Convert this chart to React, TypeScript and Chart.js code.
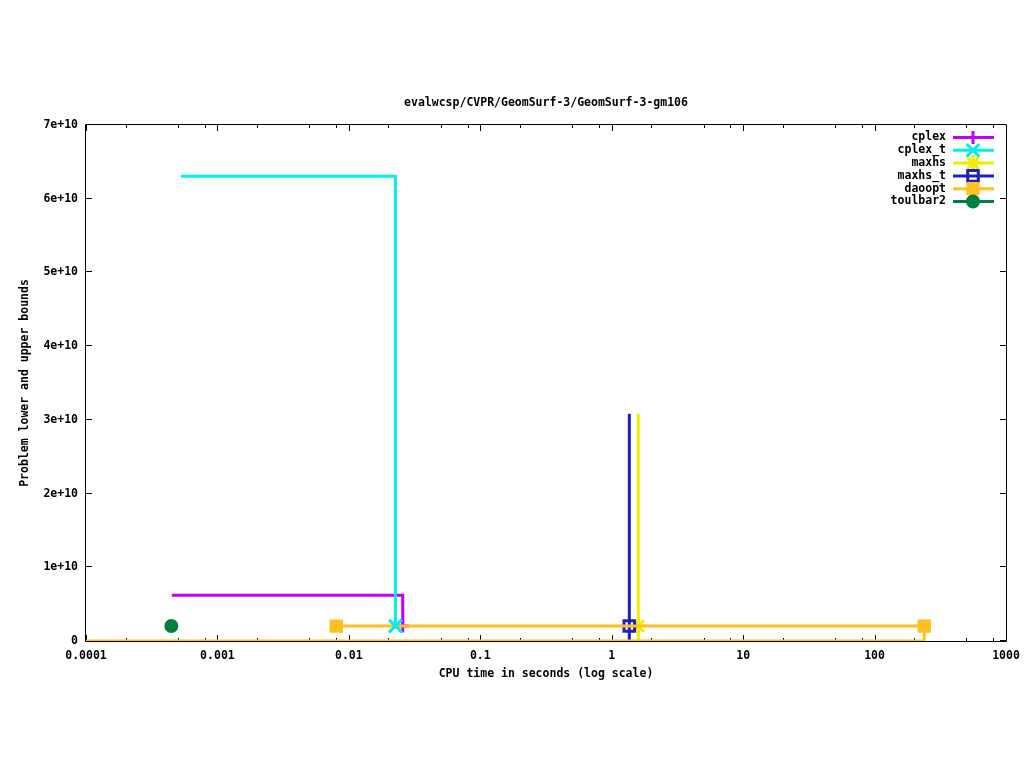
import React, { useEffect, useRef } from 'react';
import { Chart, registerables } from 'chart.js';
import { drawPoint } from 'chart.js/helpers';

Chart.register(...registerables);

const chartTitle = 'evalwcsp/CVPR/GeomSurf-3/GeomSurf-3-gm106';
const xAxisTitle = 'CPU time in seconds (log scale)';
const yAxisTitle = 'Problem lower and upper bounds';

const xTickValues = [0.0001, 0.001, 0.01, 0.1, 1, 10, 100, 1000];
const xTickLabels = ['0.0001', '0.001', '0.01', '0.1', '1', '10', '100', '1000'];
const xMinorFactors = [2, 5, 8];
const yTickValues = [0, 1e10, 2e10, 3e10, 4e10, 5e10, 6e10, 7e10];
const yTickLabels = ['0', '1e+10', '2e+10', '3e+10', '4e+10', '5e+10', '6e+10', '7e+10'];

// series: x (seconds), y (bound), marker flag
const cplexX = [0.00045, 0.0257, 0.0257];
const cplexY = [6.2e9, 6.2e9, 2.03e9];
const cplexM = [0, 0, 1];

const cplexTX = [0.000528, 0.0226, 0.0226];
const cplexTY = [6.305e10, 6.305e10, 2.03e9];
const cplexTM = [0, 0, 1];

const maxhsX = [1.593, 1.593, 1.593];
const maxhsY = [3.083e10, 2.03e9, 0];
const maxhsM = [0, 1, 0];

const maxhsTX = [1.361, 1.361, 1.361];
const maxhsTY = [3.083e10, 2.03e9, 0];
const maxhsTM = [0, 1, 0];

const daooptX = [0.00802, 238.8];
const daooptY = [2.03e9, 2.03e9];
const daooptM = [1, 1];
const daooptLowX = [0.0001, 238.8, 238.8];
const daooptLowY = [0, 0, 2.03e9];

const toulbar2X = [0.000446];
const toulbar2Y = [2.03e9];
const toulbar2M = [1];

const FONT = 'bold 11.5px "DejaVu Sans Mono"';

type Style = { name: string; color: string; pointStyle: string; radius: number; fill: boolean; bw: number };
const styles: Style[] = [
  { name: 'cplex', color: '#c000ff', pointStyle: 'cross', radius: 6.5, fill: false, bw: 3 },
  { name: 'cplex_t', color: '#00eeee', pointStyle: 'crossRot', radius: 9, fill: false, bw: 3 },
  { name: 'maxhs', color: '#eeee00', pointStyle: 'star', radius: 8, fill: false, bw: 3 },
  { name: 'maxhs_t', color: '#2020c0', pointStyle: 'rect', radius: 7.5, fill: false, bw: 3 },
  { name: 'daoopt', color: '#ffc020', pointStyle: 'rect', radius: 8, fill: true, bw: 2 },
  { name: 'toulbar2', color: '#008040', pointStyle: 'circle', radius: 6, fill: true, bw: 2 },
];

function makeDs(xs: number[], ys: number[], ms: number[], s: Style, label: string) {
  return {
    label,
    data: xs.map((x, i) => ({ x, y: ys[i] })),
    showLine: true,
    borderColor: s.color,
    backgroundColor: s.fill ? s.color : 'rgba(0,0,0,0)',
    borderWidth: 3,
    pointRadius: ms.map((m) => (m ? s.radius : 0)),
    pointStyle: s.pointStyle,
    pointBorderColor: s.color,
    pointBackgroundColor: s.fill ? s.color : 'rgba(0,0,0,0)',
    pointBorderWidth: s.bw,
    pointHoverRadius: ms.map((m) => (m ? s.radius : 0)),
    tension: 0,
  };
}

const gnuplotPlugin = {
  id: 'gnuplotDecor',
  beforeDatasetsDraw(chart: any) {
    const ctx = chart.ctx;
    const { left, right, top, bottom } = chart.chartArea;
    const xs = chart.scales.x;
    const ys = chart.scales.y;
    ctx.save();
    ctx.strokeStyle = '#000';
    ctx.lineWidth = 1;
    ctx.beginPath();
    ctx.rect(Math.round(left) - 0.5, Math.round(top) - 0.5, Math.round(right - left) + 1, Math.round(bottom - top) + 1);
    ctx.stroke();
    ctx.beginPath();
    const major = 6;
    const minor = 3;
    xTickValues.forEach((v) => {
      const px = Math.round(xs.getPixelForValue(v)) + 0.5;
      ctx.moveTo(px, bottom);
      ctx.lineTo(px, bottom - major);
      ctx.moveTo(px, top);
      ctx.lineTo(px, top + major);
    });
    xTickValues.slice(0, -1).forEach((v) => {
      xMinorFactors.forEach((f) => {
        const px = Math.round(xs.getPixelForValue(v * f)) + 0.5;
        ctx.moveTo(px, bottom);
        ctx.lineTo(px, bottom - minor);
        ctx.moveTo(px, top);
        ctx.lineTo(px, top + minor);
      });
    });
    yTickValues.forEach((v) => {
      const py = Math.round(ys.getPixelForValue(v)) - 0.5;
      ctx.moveTo(left, py);
      ctx.lineTo(left + major, py);
      ctx.moveTo(right, py);
      ctx.lineTo(right - major, py);
    });
    ctx.stroke();
    ctx.restore();
  },
  afterDraw(chart: any) {
    const ctx = chart.ctx;
    const { left, right, top, bottom } = chart.chartArea;
    ctx.save();
    ctx.fillStyle = '#000';
    ctx.font = FONT;
    ctx.textAlign = 'center';
    ctx.textBaseline = 'middle';
    ctx.fillText(chartTitle, (left + right) / 2, 103);
    ctx.fillText(xAxisTitle, (left + right) / 2, 674);
    ctx.save();
    ctx.translate(25, (top + bottom) / 2);
    ctx.rotate(-Math.PI / 2);
    ctx.fillText(yAxisTitle, 0, 0);
    ctx.restore();
    // legend
    styles.forEach((s, i) => {
      const y = 137.5 + i * 12.8;
      ctx.fillStyle = '#000';
      ctx.textAlign = 'right';
      ctx.fillText(s.name, 946, y);
      ctx.strokeStyle = s.color;
      ctx.lineWidth = 3;
      ctx.beginPath();
      ctx.moveTo(953, y);
      ctx.lineTo(994, y);
      ctx.stroke();
      ctx.fillStyle = s.fill ? s.color : 'rgba(0,0,0,0)';
      ctx.lineWidth = s.bw;
      drawPoint(ctx, { pointStyle: s.pointStyle as any, radius: s.radius, rotation: 0, borderWidth: s.bw }, 973, y);
    });
    ctx.restore();
  },
};

export default function App() {
  const ref = useRef<HTMLCanvasElement | null>(null);
  useEffect(() => {
    if (!ref.current) return;
    const chart = new Chart(ref.current, {
      type: 'scatter',
      data: {
        datasets: [
          makeDs(cplexTX, cplexTY, cplexTM, styles[1], 'cplex_t'),
          makeDs(daooptX, daooptY, daooptM, styles[4], 'daoopt'),
          makeDs(daooptLowX, daooptLowY, [0, 0, 0], styles[4], 'daoopt lower'),
          makeDs(cplexX, cplexY, cplexM, styles[0], 'cplex'),
          makeDs(toulbar2X, toulbar2Y, toulbar2M, styles[5], 'toulbar2'),
          makeDs(maxhsTX, maxhsTY, maxhsTM, styles[3], 'maxhs_t'),
          makeDs(maxhsX, maxhsY, maxhsM, styles[2], 'maxhs'),
        ] as any,
      },
      options: {
        animation: false,
        responsive: false,
        events: [],
        layout: { padding: { top: 125, left: 0, right: 18, bottom: 67 } },
        plugins: { legend: { display: false }, title: { display: false }, tooltip: { enabled: false } },
        scales: {
          x: {
            type: 'logarithmic',
            min: 0.0001,
            max: 1000,
            border: { display: false },
            grid: { display: false, drawTicks: false },
            afterFit: (s: any) => { s.height = 60; s.paddingLeft = 0; s.paddingRight = 0; },
            afterBuildTicks: (s: any) => { s.ticks = xTickValues.map((v) => ({ value: v })); },
            ticks: {
              autoSkip: false,
              maxRotation: 0,
              padding: 8,
              color: '#000',
              font: { family: 'DejaVu Sans Mono', size: 11.5, weight: 'bold' },
              callback: (v: any) => { const i = xTickValues.findIndex((t) => Math.abs(t - v) / t < 1e-6); return i >= 0 ? xTickLabels[i] : ''; },
            },
          },
          y: {
            type: 'linear',
            min: 0,
            max: 7e10,
            border: { display: false },
            grid: { display: false, drawTicks: false },
            afterFit: (s: any) => { s.width = 86; s.paddingTop = 0; s.paddingBottom = 0; },
            afterBuildTicks: (s: any) => { s.ticks = yTickValues.map((v) => ({ value: v })); },
            ticks: {
              autoSkip: false,
              padding: 8,
              color: '#000',
              font: { family: 'DejaVu Sans Mono', size: 11.5, weight: 'bold' },
              callback: (v: any) => { const i = yTickValues.indexOf(v); return i >= 0 ? yTickLabels[i] : ''; },
            },
          },
        },
      } as any,
      plugins: [gnuplotPlugin],
    });
    return () => chart.destroy();
  }, []);
  return (
    <div style={{ position: 'absolute', left: 0, top: 0, width: 1024, height: 768, background: '#fff' }}>
      <canvas ref={ref} width={1024} height={768} style={{ display: 'block' }} />
    </div>
  );
}
